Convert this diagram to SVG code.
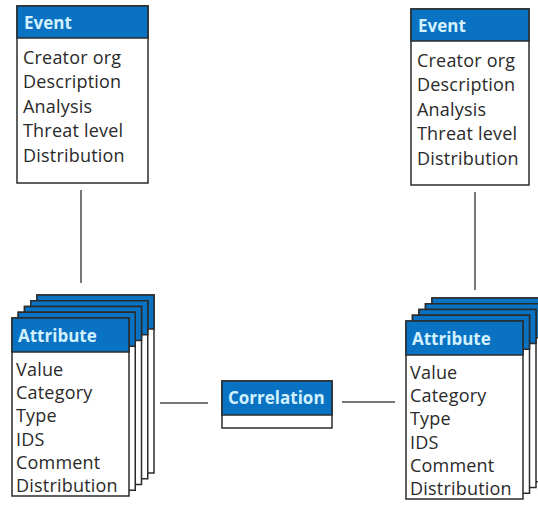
<svg xmlns="http://www.w3.org/2000/svg" width="538" height="506" viewBox="0 0 538 506">
  <style>
    .body { fill: #ffffff; stroke: #2b2b2b; stroke-width: 1.5; }
    .head { fill: #0a72c2; stroke: #2b2b2b; stroke-width: 1.5; }
    .title { font-family: "Open Sans", "Liberation Sans", sans-serif; font-weight: bold; font-size: 17px; fill: #d2f1ff; }
    .field { font-family: "Open Sans", "Liberation Sans", sans-serif; font-size: 18px; letter-spacing: 0.2px; fill: #2a2a2a; }
    .link { stroke: #4a4a4a; stroke-width: 1.5; fill: none; }
  </style>
  <defs>
    <!-- one stacked card: white body with a blue header strip -->
    <g id="card">
      <rect class="body" x="0" y="0" width="117" height="178"/>
      <rect class="head" x="0" y="0" width="117" height="34"/>
    </g>
  </defs>

  <rect width="538" height="506" fill="#ffffff"/>

  <g id="connectors">
    <line class="link" x1="81" y1="190" x2="81" y2="283"/>
    <line class="link" x1="475" y1="192" x2="475" y2="290"/>
    <line class="link" x1="160" y1="403" x2="208" y2="403"/>
    <line class="link" x1="342" y1="402" x2="395" y2="402"/>
  </g>

  <g id="event-left">
    <rect class="body" x="17" y="6" width="131" height="177"/>
    <rect class="head" x="17" y="6" width="131" height="32"/>
    <text class="title" x="24" y="29">Event</text>
    <text class="field" x="23" y="64">Creator org</text>
    <text class="field" x="23" y="88">Description</text>
    <text class="field" x="23" y="112.5">Analysis</text>
    <text class="field" x="23" y="137">Threat level</text>
    <text class="field" x="23" y="161.5">Distribution</text>
  </g>

  <g id="event-right">
    <rect class="body" x="411" y="9" width="118" height="176"/>
    <rect class="head" x="411" y="9" width="118" height="32"/>
    <text class="title" x="418" y="32">Event</text>
    <text class="field" x="417" y="67">Creator org</text>
    <text class="field" x="417" y="91">Description</text>
    <text class="field" x="417" y="115.5">Analysis</text>
    <text class="field" x="417" y="140">Threat level</text>
    <text class="field" x="417" y="164.5">Distribution</text>
  </g>

  <g id="attribute-left">
    <use href="#card" x="37" y="295"/>
    <use href="#card" x="30.75" y="300.75"/>
    <use href="#card" x="24.5" y="306.5"/>
    <use href="#card" x="18.25" y="312.25"/>
    <use href="#card" x="12" y="318"/>
    <text class="title" x="18" y="342">Attribute</text>
    <text class="field" x="16" y="376">Value</text>
    <text class="field" x="16" y="399">Category</text>
    <text class="field" x="16" y="422">Type</text>
    <text class="field" x="16" y="445.5">IDS</text>
    <text class="field" x="16" y="469">Comment</text>
    <text class="field" x="16" y="492">Distribution</text>
  </g>

  <g id="attribute-right">
    <use href="#card" x="432" y="298"/>
    <use href="#card" x="425.5" y="303.75"/>
    <use href="#card" x="419" y="309.5"/>
    <use href="#card" x="412.5" y="315.25"/>
    <use href="#card" x="406" y="321"/>
    <text class="title" x="412" y="345">Attribute</text>
    <text class="field" x="410" y="379">Value</text>
    <text class="field" x="410" y="402">Category</text>
    <text class="field" x="410" y="425">Type</text>
    <text class="field" x="410" y="448.5">IDS</text>
    <text class="field" x="410" y="472">Comment</text>
    <text class="field" x="410" y="495">Distribution</text>
  </g>

  <g id="correlation">
    <rect class="body" x="222" y="381" width="110" height="47"/>
    <rect class="head" x="222" y="381" width="110" height="34"/>
    <text class="title" x="228" y="404">Correlation</text>
  </g>
</svg>
